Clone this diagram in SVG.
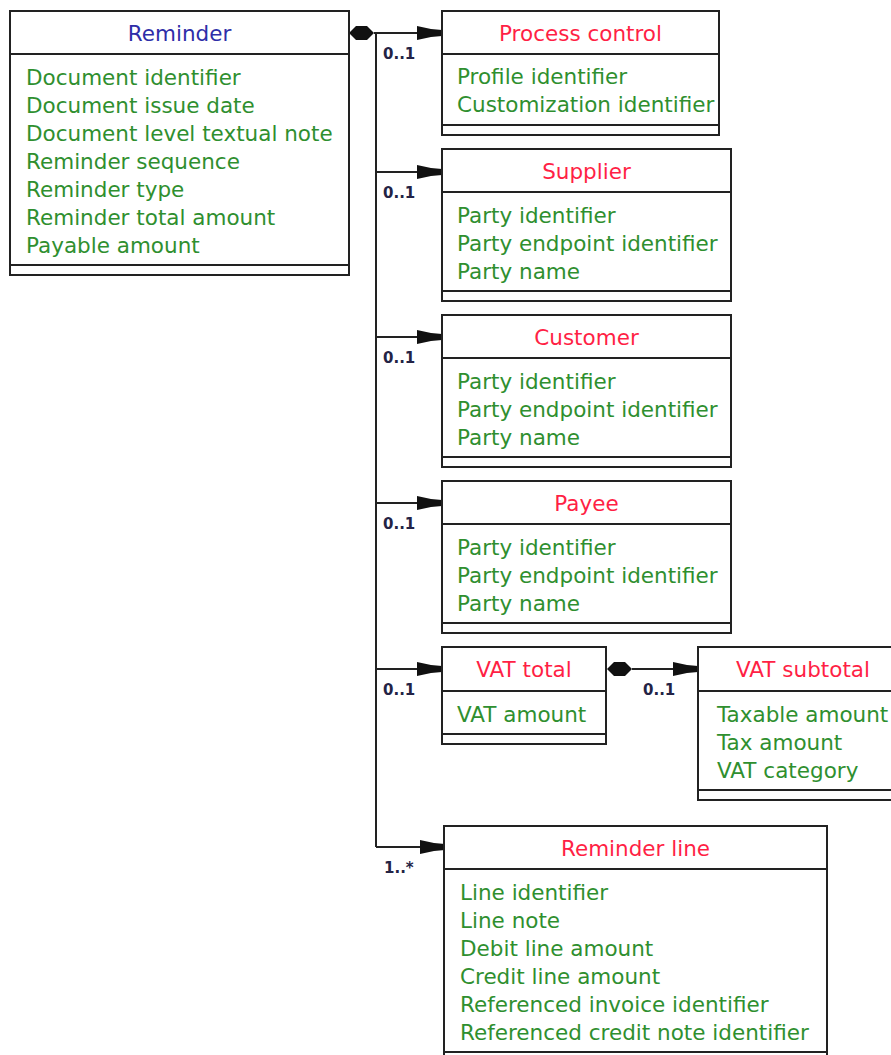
<svg xmlns="http://www.w3.org/2000/svg" width="891" height="1055" viewBox="0 0 891 1055">
<style>
.box{fill:#fff;stroke:#222;stroke-width:2}
.ln{stroke:#222;stroke-width:2;fill:none}
.t{font-family:"DejaVu Sans",sans-serif;font-size:21.5px;text-anchor:middle;fill:#ff1f45}
.tb{fill:#2e2ea8}
.a{font-family:"DejaVu Sans",sans-serif;font-size:21.5px;fill:#2f8f2f}
.m{font-family:"DejaVu Sans",sans-serif;font-size:15px;font-weight:bold;fill:#232345}
.hd{fill:#111}
</style>
<rect width="891" height="1055" fill="#fff"/>
<g id="connectors">
<path class="ln" d="M374,33 H418 M376,33 V847 M376,172 H418 M376,337 H418 M376,503 H418 M376,669 H418 M376,847 H422 M632,669 H676"/>
<polygon class="hd" points="349,33 356,26 367,26 374,33 367,40 356,40"/>
<polygon class="hd" points="607,669 614,662 625,662 632,669 625,676 614,676"/>
<polygon class="hd" points="417,26 431,29 442,30 442,36 431,37 417,40"/>
<polygon class="hd" points="417,165 431,168 442,169 442,175 431,176 417,179"/>
<polygon class="hd" points="417,330 431,333 442,334 442,340 431,341 417,344"/>
<polygon class="hd" points="417,496 431,499 442,500 442,506 431,507 417,510"/>
<polygon class="hd" points="417,662 431,665 442,666 442,672 431,673 417,676"/>
<polygon class="hd" points="673,662 687,665 698,666 698,672 687,673 673,676"/>
<polygon class="hd" points="420,840 434,843 445,844 445,850 434,851 420,854"/>
<text class="m" x="383" y="59">0..1</text>
<text class="m" x="383" y="198">0..1</text>
<text class="m" x="383" y="363">0..1</text>
<text class="m" x="383" y="529">0..1</text>
<text class="m" x="383" y="695">0..1</text>
<text class="m" x="643" y="695">0..1</text>
<text class="m" x="384" y="873">1..*</text>
</g>
<g id="reminder">
<rect class="box" x="10" y="11" width="339" height="264"/>
<path class="ln" d="M10,54 H349 M10,265 H349"/>
<text class="t tb" x="179.5" y="41">Reminder</text>
<text class="a" x="26" y="85">Document identifier</text>
<text class="a" x="26" y="113">Document issue date</text>
<text class="a" x="26" y="141">Document level textual note</text>
<text class="a" x="26" y="169">Reminder sequence</text>
<text class="a" x="26" y="197">Reminder type</text>
<text class="a" x="26" y="225">Reminder total amount</text>
<text class="a" x="26" y="253">Payable amount</text>
</g>
<g id="process-control">
<rect class="box" x="442" y="11" width="277" height="124"/>
<path class="ln" d="M442,54 H719 M442,125 H719"/>
<text class="t" x="580.5" y="41">Process control</text>
<text class="a" x="457" y="84">Profile identifier</text>
<text class="a" x="457" y="112">Customization identifier</text>
</g>
<g id="supplier">
<rect class="box" x="442" y="149" width="289" height="152"/>
<path class="ln" d="M442,192 H731 M442,291 H731"/>
<text class="t" x="586.5" y="179">Supplier</text>
<text class="a" x="457" y="223">Party identifier</text>
<text class="a" x="457" y="251">Party endpoint identifier</text>
<text class="a" x="457" y="279">Party name</text>
</g>
<g id="customer">
<rect class="box" x="442" y="315" width="289" height="152"/>
<path class="ln" d="M442,358 H731 M442,457 H731"/>
<text class="t" x="586.5" y="345">Customer</text>
<text class="a" x="457" y="389">Party identifier</text>
<text class="a" x="457" y="417">Party endpoint identifier</text>
<text class="a" x="457" y="445">Party name</text>
</g>
<g id="payee">
<rect class="box" x="442" y="481" width="289" height="152"/>
<path class="ln" d="M442,524 H731 M442,623 H731"/>
<text class="t" x="586.5" y="511">Payee</text>
<text class="a" x="457" y="555">Party identifier</text>
<text class="a" x="457" y="583">Party endpoint identifier</text>
<text class="a" x="457" y="611">Party name</text>
</g>
<g id="vat-total">
<rect class="box" x="442" y="647" width="164" height="97"/>
<path class="ln" d="M442,691 H606 M442,734 H606"/>
<text class="t" x="524" y="677">VAT total</text>
<text class="a" x="457" y="722">VAT amount</text>
</g>
<g id="vat-subtotal">
<rect class="box" x="698" y="647" width="210" height="153"/>
<path class="ln" d="M698,691 H908 M698,790 H908"/>
<text class="t" x="803" y="677">VAT subtotal</text>
<text class="a" x="717" y="722">Taxable amount</text>
<text class="a" x="717" y="750">Tax amount</text>
<text class="a" x="717" y="778">VAT category</text>
</g>
<g id="reminder-line">
<rect class="box" x="444" y="826" width="383" height="236"/>
<path class="ln" d="M444,869 H827 M444,1052 H827"/>
<text class="t" x="635.5" y="856">Reminder line</text>
<text class="a" x="460" y="900">Line identifier</text>
<text class="a" x="460" y="928">Line note</text>
<text class="a" x="460" y="956">Debit line amount</text>
<text class="a" x="460" y="984">Credit line amount</text>
<text class="a" x="460" y="1012">Referenced invoice identifier</text>
<text class="a" x="460" y="1040">Referenced credit note identifier</text>
</g>
</svg>
